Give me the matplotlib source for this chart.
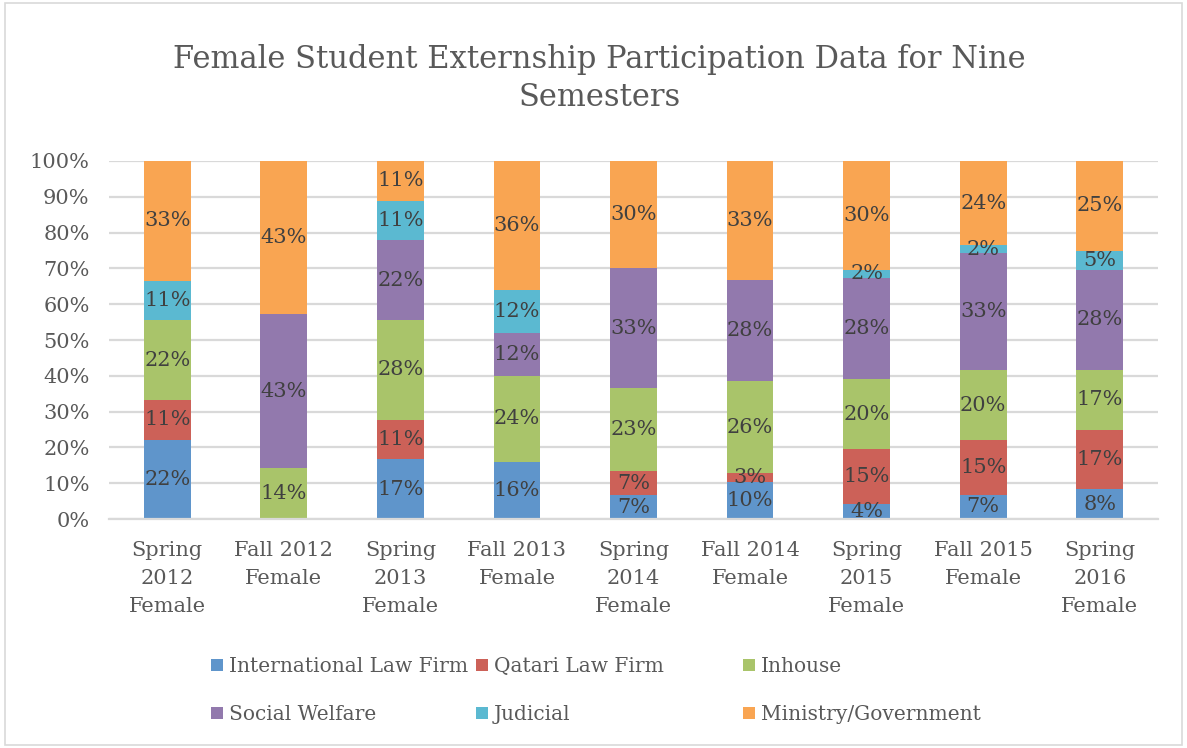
import numpy as np
import matplotlib.pyplot as plt
from matplotlib.patches import Rectangle

semesters = ["Spring\n2012\nFemale", "Fall 2012\nFemale", "Spring\n2013\nFemale",
             "Fall 2013\nFemale", "Spring\n2014\nFemale", "Fall 2014\nFemale",
             "Spring\n2015\nFemale", "Fall 2015\nFemale", "Spring\n2016\nFemale"]

# shares in percent
international = [22.2, 0.0, 16.7, 16.0, 6.7, 10.3, 4.3, 6.8, 8.3]
qatari = [11.1, 0.0, 11.1, 0.0, 6.7, 2.6, 15.2, 15.2, 16.7]
inhouse = [22.2, 14.3, 27.8, 24.0, 23.3, 25.6, 19.6, 19.6, 16.7]
social = [0.0, 42.9, 22.2, 12.0, 33.3, 28.2, 28.3, 32.6, 27.8]
judicial = [11.1, 0.0, 11.1, 12.0, 0.0, 0.0, 2.2, 2.2, 5.4]
ministry = [33.4, 42.8, 11.1, 36.0, 30.0, 33.3, 30.4, 23.6, 25.1]

series_names = ["International Law Firm", "Qatari Law Firm", "Inhouse",
                "Social Welfare", "Judicial", "Ministry/Government"]
colors = ["#5F95CB", "#CC6158", "#A9C46A", "#9279AD", "#5BB9D1", "#F9A552"]

plt.rcParams['font.family'] = ['DejaVu Serif']

fig = plt.figure(figsize=(11.87, 7.48), dpi=100)
ax = fig.add_axes([0.0918, 0.306, 0.8838, 0.4788])

x = np.arange(len(semesters))
bottom = np.zeros(len(semesters))
handles = []
for name, vals, col in zip(series_names,
                           [international, qatari, inhouse, social, judicial, ministry],
                           colors):
    vals = np.array(vals)
    bars = ax.bar(x, vals, 0.4, bottom=bottom, color=col, label=name, zorder=2)
    handles.append(bars)
    for xi, b, v in zip(x, bottom, vals):
        if v > 0:
            ax.text(xi, b + v / 2, f"{v:.0f}%", ha='center', va='center',
                    fontsize=15, color='#404040', zorder=3)
    bottom += vals

ax.set_xlim(-0.5, len(semesters) - 0.5)
ax.set_ylim(0, 100)
ax.set_yticks(np.arange(0, 101, 10))
ax.set_yticklabels([f"{v}%" for v in range(0, 101, 10)])
ax.set_xticks(x)
ax.set_xticklabels(semesters, linespacing=1.6)
ax.tick_params(axis='both', length=0, labelsize=15, colors='#595959')
ax.tick_params(axis='y', pad=14)
ax.tick_params(axis='x', pad=16)
ax.grid(axis='y', color='#D9D9D9', linewidth=1.6, zorder=0)
for s in ax.spines.values():
    s.set_visible(False)
ax.spines['bottom'].set_visible(True)
ax.spines['bottom'].set_color('#D9D9D9')
ax.spines['bottom'].set_linewidth(1.6)

fig.text(0.505, 1 - 44 / 748,
         "Female Student Externship Participation Data for Nine\nSemesters",
         ha='center', va='top', fontsize=22, color='#595959', linespacing=1.3)

# legend: three equal-width columns, filled row by row
col_x = [211, 476, 743]
for i, cx in enumerate(col_x):
    fig.legend(handles=[handles[i], handles[i + 3]],
               labels=[series_names[i], series_names[i + 3]],
               loc='upper left', bbox_to_anchor=(cx / 1187, 1 - 657 / 748),
               frameon=False, fontsize=14.5, labelcolor='#595959',
               handlelength=0.6, handleheight=0.6, handletextpad=0.3,
               labelspacing=1.45, borderpad=0, borderaxespad=0)

fig.patches.append(Rectangle((0.004, 0.004), 0.992, 0.992, transform=fig.transFigure,
                             fill=False, edgecolor='#D9D9D9', linewidth=1.2))

fig.savefig("out.png", dpi=100)
